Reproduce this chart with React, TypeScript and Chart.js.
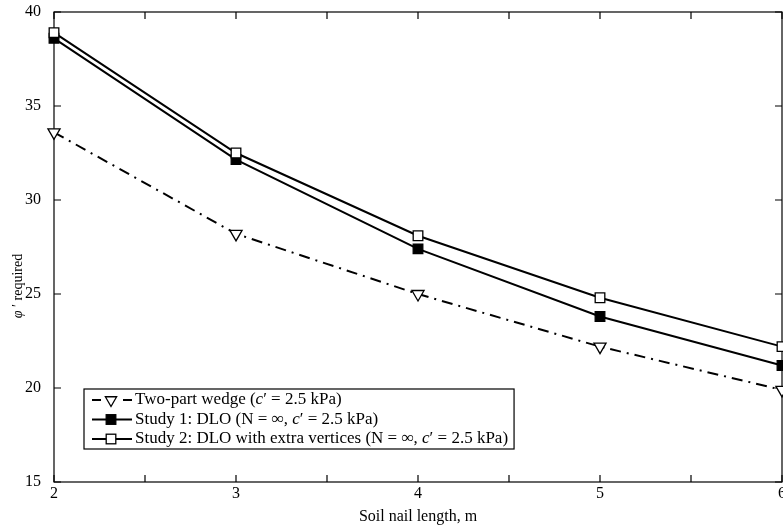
import React, { useEffect, useRef } from 'react';
import { Chart, registerables } from 'chart.js';

Chart.register(...registerables);

const nailLengths = [2, 3, 4, 5, 6];
const twoPartWedge = [33.6, 28.2, 25.0, 22.2, 19.9];
const study1DLO = [38.6, 32.15, 27.4, 23.8, 21.2];
const study2DLO = [38.9, 32.5, 28.1, 24.8, 22.2];
const xTickStep = 0.5;
const yTickStep = 5;

const FONT = '"Liberation Serif", "Times New Roman", serif';

type Seg = { t: string; italic?: boolean; bold?: boolean };
const legendRows: { segs: Seg[]; marker: 'tri' | 'filled' | 'open'; dash: number[] }[] = [
  { segs: [{ t: 'Two-part wedge (' }, { t: 'c', italic: true }, { t: '′ = 2.5 kPa)' }], marker: 'tri', dash: [11, 6, 2, 6] },
  { segs: [{ t: 'Study 1: DLO (N = ' }, { t: '∞', bold: true }, { t: ', ' }, { t: 'c', italic: true }, { t: '′ = 2.5 kPa)' }], marker: 'filled', dash: [] },
  { segs: [{ t: 'Study 2: DLO with extra vertices (N = ' }, { t: '∞', bold: true }, { t: ', ' }, { t: 'c', italic: true }, { t: '′ = 2.5 kPa)' }], marker: 'open', dash: [] },
];

function drawSegs(ctx: CanvasRenderingContext2D, segs: Seg[], x: number, y: number, size: number, measureOnly = false) {
  let cx = x;
  for (const s of segs) {
    ctx.font = `${s.italic ? 'italic ' : ''}${s.bold ? 'bold ' : ''}${size}px ${FONT}`;
    if (!measureOnly) ctx.fillText(s.t, cx, y);
    cx += ctx.measureText(s.t).width;
  }
  return cx - x;
}

function drawMarker(ctx: CanvasRenderingContext2D, kind: string, x: number, y: number) {
  ctx.save();
  ctx.setLineDash([]);
  ctx.lineWidth = 1.3;
  ctx.strokeStyle = '#000';
  if (kind === 'tri') {
    const r = 6.5;
    ctx.beginPath();
    ctx.moveTo(x, y + r);
    ctx.lineTo(x - r * 0.866, y - r * 0.5);
    ctx.lineTo(x + r * 0.866, y - r * 0.5);
    ctx.closePath();
    ctx.fillStyle = '#fff';
    ctx.fill();
    ctx.stroke();
  } else {
    const h = 4.8;
    ctx.fillStyle = kind === 'filled' ? '#000' : '#fff';
    ctx.fillRect(x - h, y - h, 2 * h, 2 * h);
    ctx.strokeRect(x - h, y - h, 2 * h, 2 * h);
  }
  ctx.restore();
}

const framePlugin = {
  id: 'frame',
  beforeDatasetsDraw(chart: any) {
    const { ctx, chartArea: a, scales } = chart;
    const xs = scales.x;
    const ys = scales.y;
    ctx.save();
    ctx.strokeStyle = '#000';
    ctx.lineWidth = 1.2;
    ctx.strokeRect(a.left, a.top, a.right - a.left, a.bottom - a.top);
    const tl = 7;
    ctx.beginPath();
    xs.ticks.forEach((t: any) => {
      const px = xs.getPixelForValue(t.value);
      ctx.moveTo(px, a.bottom);
      ctx.lineTo(px, a.bottom - tl);
      ctx.moveTo(px, a.top);
      ctx.lineTo(px, a.top + tl);
    });
    ys.ticks.forEach((t: any) => {
      const py = ys.getPixelForValue(t.value);
      ctx.moveTo(a.left, py);
      ctx.lineTo(a.left + tl, py);
      ctx.moveTo(a.right, py);
      ctx.lineTo(a.right - tl, py);
    });
    ctx.stroke();

    // x tick labels (integers only)
    ctx.fillStyle = '#000';
    ctx.font = `16px ${FONT}`;
    ctx.textAlign = 'center';
    ctx.textBaseline = 'middle';
    xs.ticks.forEach((t: any) => {
      if (!Number.isInteger(t.value)) return;
      ctx.fillText(String(t.value), xs.getPixelForValue(t.value), a.bottom + 12);
    });

    // y axis title
    ctx.textAlign = 'left';
    const ySegs: Seg[] = [{ t: 'φ', italic: true }, { t: ' ′ required' }];
    const w = drawSegs(ctx, ySegs, 0, 0, 14, true);
    ctx.translate(18, 286);
    ctx.rotate(-Math.PI / 2);
    drawSegs(ctx, ySegs, -w / 2, 0, 14);
    ctx.restore();
  },
  afterDraw(chart: any) {
    const { ctx } = chart;
    ctx.save();
    const size = 17;
    const boxL = 84;
    const boxT = 389;
    const rowH = 19.5;
    const lineX0 = 92;
    const lineX1 = 132;
    const textX = 135;
    let maxW = 0;
    legendRows.forEach((r) => {
      maxW = Math.max(maxW, drawSegs(ctx, r.segs, 0, 0, size, true));
    });
    const boxW = textX + maxW + 6 - boxL;
    const boxH = 60;
    ctx.fillStyle = '#fff';
    ctx.fillRect(boxL, boxT, boxW, boxH);
    ctx.strokeStyle = '#000';
    ctx.lineWidth = 1.2;
    ctx.strokeRect(boxL, boxT, boxW, boxH);
    legendRows.forEach((r, i) => {
      const y = boxT + 7 + rowH * i + 4;
      ctx.save();
      ctx.strokeStyle = '#000';
      ctx.lineWidth = 2;
      ctx.beginPath();
      if (r.dash.length) {
        ctx.moveTo(lineX0, y);
        ctx.lineTo(lineX0 + 9, y);
        ctx.moveTo(lineX1 - 9, y);
        ctx.lineTo(lineX1, y);
      } else {
        ctx.moveTo(lineX0, y);
        ctx.lineTo(lineX1, y);
      }
      ctx.stroke();
      ctx.restore();
      drawMarker(ctx, r.marker, (lineX0 + lineX1) / 2 - 1, y);
      ctx.fillStyle = '#000';
      ctx.textBaseline = 'middle';
      drawSegs(ctx, r.segs, textX, y, size);
    });
    ctx.restore();
  },
};

export default function App() {
  const ref = useRef<HTMLCanvasElement | null>(null);
  useEffect(() => {
    if (!ref.current) return;
    const pts = (vals: number[]) => nailLengths.map((x, i) => ({ x, y: vals[i] }));
    const tickFont = { family: FONT, size: 16 };
    const chart = new Chart(ref.current, {
      type: 'line',
      data: {
        datasets: [
          {
            label: 'Two-part wedge (c′ = 2.5 kPa)',
            data: pts(twoPartWedge),
            borderColor: '#000',
            borderWidth: 2,
            borderDash: [11, 6, 2, 6],
            pointStyle: 'triangle',
            pointRotation: 180,
            pointRadius: 7,
            pointBackgroundColor: '#fff',
            pointBorderColor: '#000',
            pointBorderWidth: 1.3,
            clip: false as any,
            order: 2,
            tension: 0,
          },
          {
            label: 'Study 1: DLO (N = ∞, c′ = 2.5 kPa)',
            data: pts(study1DLO),
            borderColor: '#000',
            borderWidth: 2,
            pointStyle: 'rect',
            pointRadius: 6.8,
            pointBackgroundColor: '#000',
            pointBorderColor: '#000',
            pointBorderWidth: 1.3,
            clip: false as any,
            order: 1,
            tension: 0,
          },
          {
            label: 'Study 2: DLO with extra vertices (N = ∞, c′ = 2.5 kPa)',
            data: pts(study2DLO),
            borderColor: '#000',
            borderWidth: 2,
            pointStyle: 'rect',
            pointRadius: 6.8,
            pointBackgroundColor: '#fff',
            pointBorderColor: '#000',
            pointBorderWidth: 1.3,
            clip: false as any,
            order: 0,
            tension: 0,
          },
        ],
      },
      options: {
        animation: false,
        responsive: false,
        maintainAspectRatio: false,
        layout: { autoPadding: false, padding: { top: 12, right: 1, left: 0, bottom: 0 } },
        plugins: { legend: { display: false }, tooltip: { enabled: false } },
        scales: {
          x: {
            type: 'linear',
            min: 2,
            max: 6,
            ticks: { stepSize: xTickStep, display: false },
            grid: { display: false },
            border: { display: false },
            title: {
              display: true,
              text: 'Soil nail length, m',
              color: '#000',
              font: { family: FONT, size: 16 },
              padding: { top: 0, bottom: 2 },
            },
            afterFit: (s: any) => {
              s.height = 46;
              s.paddingLeft = 0;
              s.paddingRight = 0;
            },
          },
          y: {
            type: 'linear',
            min: 15,
            max: 40,
            ticks: { stepSize: yTickStep, color: '#000', font: tickFont, padding: 5 },
            grid: { display: false },
            border: { display: false },
            afterFit: (s: any) => {
              s.width = 54;
              s.paddingTop = 0;
              s.paddingBottom = 0;
            },
          },
        },
      },
      plugins: [framePlugin],
    });
    return () => chart.destroy();
  }, []);
  return (
    <div style={{ position: 'fixed', left: 0, top: 0, width: 783, height: 528, background: '#fff' }}>
      <canvas ref={ref} width={783} height={528} style={{ display: 'block' }} />
    </div>
  );
}
